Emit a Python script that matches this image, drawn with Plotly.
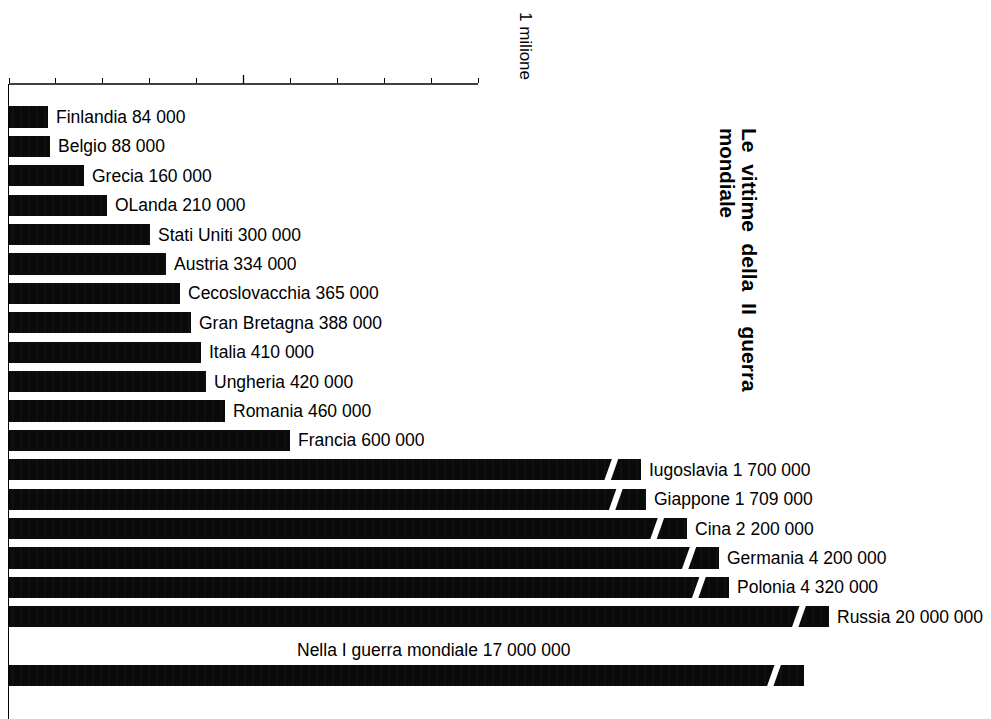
import plotly.graph_objects as go

# ---------------- data ----------------
paesi = ["Finlandia", "Belgio", "Grecia", "OLanda", "Stati Uniti", "Austria",
         "Cecoslovacchia", "Gran Bretagna", "Italia", "Ungheria", "Romania",
         "Francia", "Iugoslavia", "Giappone", "Cina", "Germania", "Polonia",
         "Russia"]
vittime = [84000, 88000, 160000, 210000, 300000, 334000, 365000, 388000,
           410000, 420000, 460000, 600000, 1700000, 1709000, 2200000,
           4200000, 4320000, 20000000]
# length (in thousands) at which the interrupted bars are drawn on the chart
lunghezza_interrotta = [None] * 12 + [1348, 1358, 1446, 1514, 1535, 1748]

prima_guerra_testo = "Nella I guerra mondiale"
prima_guerra_vittime = 17000000
prima_guerra_lunghezza = 1695

tacche = [0, 100, 200, 300, 400, 500, 600, 700, 800, 900, 1000]
titolo_righe = ["Le  vittime  della  II  guerra", "mondiale"]
etichetta_scala = "1 milione"

FONT = "Liberation Sans, Arial, Helvetica, sans-serif"


def fmt(v):
    return f"{v:,}".replace(",", " ")


# ---------------- geometry ----------------
# the page body adds an 8px offset; target coords below are page pixels
OFF = 8
PAGE_W, PAGE_H = 991, 719
W, H = PAGE_W - OFF, PAGE_H - OFF
AX_LEFT, AX_TOP = 9, 84            # page px of value 0 / top scale line
ML, MT = AX_LEFT - OFF, AX_TOP - OFF
PX_PER_K = 0.469
XMAX = (PAGE_W - AX_LEFT) / PX_PER_K
STEP_PX = 29.4
FIRST_PX = 117
y_top = -(FIRST_PX - AX_TOP) / STEP_PX
y_bot = (PAGE_H - FIRST_PX) / STEP_PX

pos = list(range(len(paesi)))
pos_prima = len(paesi) + 1

lunghezze = [lb if lb is not None else v / 1000
             for v, lb in zip(vittime, lunghezza_interrotta)]

fig = go.Figure()
bar_style = dict(color="#0a0a0a",
                 pattern=dict(shape="|", fgcolor="#333333", bgcolor="#0a0a0a",
                              size=8, solidity=0.08),
                 line=dict(width=0))

fig.add_trace(go.Bar(x=lunghezze, y=pos, orientation="h", width=0.72,
                     marker=bar_style, hoverinfo="skip", showlegend=False))
fig.add_trace(go.Bar(x=[prima_guerra_lunghezza], y=[pos_prima], orientation="h",
                     width=0.72, marker=bar_style, hoverinfo="skip",
                     showlegend=False))

annotations = []
shapes = []
for p, nome, v, L in zip(pos, paesi, vittime, lunghezze):
    annotations.append(dict(x=L, y=p, xref="x", yref="y", text=f"{nome} {fmt(v)}",
                            showarrow=False, xanchor="left", yanchor="middle",
                            xshift=6, font=dict(family=FONT, size=17.5, color="black")))

# break marks on interrupted bars
brk_off = 30 / PX_PER_K
brk_dx = 5 / PX_PER_K
brk_list = [(L, p) for p, L, lb in zip(pos, lunghezze, lunghezza_interrotta) if lb is not None]
brk_list.append((prima_guerra_lunghezza, pos_prima))
for L, p in brk_list:
    xc = L - brk_off
    shapes.append(dict(type="line", xref="x", yref="y",
                       x0=xc - brk_dx, y0=p + 0.48, x1=xc + brk_dx, y1=p - 0.48,
                       line=dict(color="white", width=6)))


def px_to_paper_x(px):
    return (px - AX_LEFT) / (PAGE_W - AX_LEFT)


def px_to_paper_y(py):
    return (PAGE_H - py) / (PAGE_H - AX_TOP)


# label of the WWI bar (above it)
annotations.append(dict(x=px_to_paper_x(434), y=pos_prima - 1, xref="paper", yref="y",
                        text=f"{prima_guerra_testo} {fmt(prima_guerra_vittime)}",
                        showarrow=False, xanchor="center", yanchor="middle", yshift=-4,
                        font=dict(family=FONT, size=17.5, color="black")))

# top scale line (0 -> 1 million)
shapes.append(dict(type="line", xref="x", yref="paper", x0=tacche[0], x1=tacche[-1],
                   y0=1, y1=1, line=dict(color="black", width=1.5)))
# taller mid tick
shapes.append(dict(type="line", xref="x", yref="paper", x0=tacche[5], x1=tacche[5],
                   ysizemode="pixel", yanchor=1, y0=0, y1=9,
                   line=dict(color="black", width=1.3)))

annotations.append(dict(x=px_to_paper_x(526), y=px_to_paper_y(10), xref="paper", yref="paper",
                        text=etichetta_scala, textangle=90, showarrow=False,
                        xanchor="center", yanchor="top",
                        font=dict(family=FONT, size=17, color="black")))
annotations.append(dict(x=px_to_paper_x(749), y=px_to_paper_y(126), xref="paper", yref="paper",
                        text=f"<b>{titolo_righe[0]}</b>", textangle=90,
                        showarrow=False, xanchor="center", yanchor="top",
                        font=dict(family=FONT, size=21, color="black")))
annotations.append(dict(x=px_to_paper_x(727), y=px_to_paper_y(126), xref="paper", yref="paper",
                        text=f"<b>{titolo_righe[1]}</b>", textangle=90,
                        showarrow=False, xanchor="center", yanchor="top",
                        font=dict(family=FONT, size=20.5, color="black")))

fig.update_layout(
    width=W, height=H,
    margin=dict(l=ML, r=0, t=MT, b=0, pad=0),
    paper_bgcolor="white", plot_bgcolor="white",
    bargap=0,
    xaxis=dict(range=[0, XMAX], side="top", showgrid=False, zeroline=False,
               showline=False, tickvals=tacche, ticks="outside", ticklen=5,
               tickwidth=1.3, tickcolor="black", showticklabels=False,
               fixedrange=True),
    yaxis=dict(range=[y_bot, y_top], showgrid=False, zeroline=False,
               showline=True, linecolor="black", linewidth=1.5,
               showticklabels=False, ticks="", fixedrange=True),
    annotations=annotations,
    shapes=shapes,
    showlegend=False,
)

fig.write_html("out.html", config={"displayModeBar": False})
